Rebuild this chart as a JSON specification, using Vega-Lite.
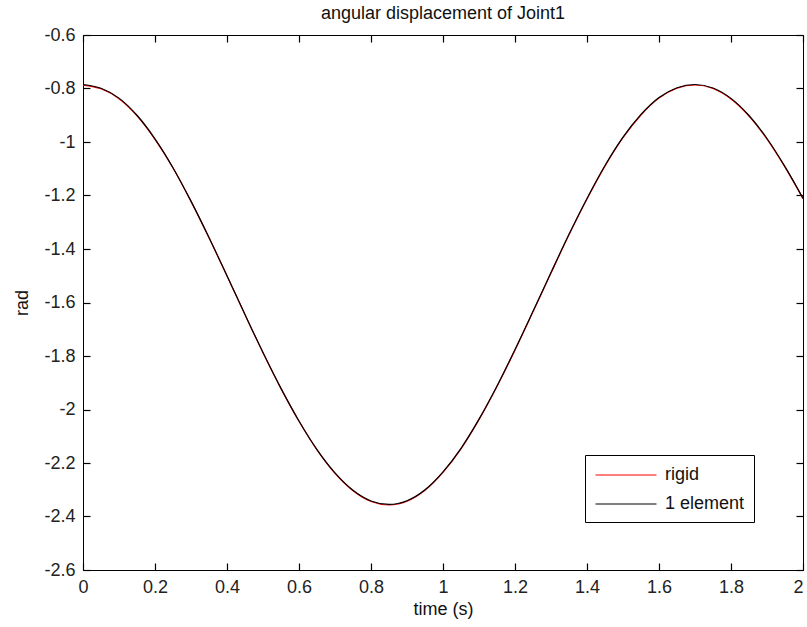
{
  "$schema": "https://vega.github.io/schema/vega-lite/v6.json",
  "autosize": {"type": "none"},
  "padding": {"left": 83, "top": 35, "right": 4, "bottom": 57},
  "width": 720,
  "height": 535,
  "background": "white",
  "title": {"text": "angular displacement of Joint1", "font": "Liberation Sans", "fontSize": 18, "fontWeight": "normal", "color": "#111", "offset": 3},
  "config": {
    "view": {"stroke": "#000", "strokeWidth": 1},
    "axis": {"grid": false, "zindex": 1, "domain": false, "labelFont": "Liberation Sans", "labelFontSize": 18, "labelColor": "#222", "titleFont": "Liberation Sans", "titleFontSize": 18, "titleFontWeight": "normal", "titleColor": "#111"}
  },
  "data": {"values": [
    {"t": 0, "v": -0.787, "series": "rigid"},
    {"t": 0.05, "v": -0.801, "series": "rigid"},
    {"t": 0.1, "v": -0.838, "series": "rigid"},
    {"t": 0.15, "v": -0.902, "series": "rigid"},
    {"t": 0.2, "v": -0.990, "series": "rigid"},
    {"t": 0.25, "v": -1.097, "series": "rigid"},
    {"t": 0.3, "v": -1.222, "series": "rigid"},
    {"t": 0.35, "v": -1.358, "series": "rigid"},
    {"t": 0.4, "v": -1.501, "series": "rigid"},
    {"t": 0.45, "v": -1.646, "series": "rigid"},
    {"t": 0.5, "v": -1.788, "series": "rigid"},
    {"t": 0.55, "v": -1.922, "series": "rigid"},
    {"t": 0.6, "v": -2.044, "series": "rigid"},
    {"t": 0.65, "v": -2.151, "series": "rigid"},
    {"t": 0.7, "v": -2.239, "series": "rigid"},
    {"t": 0.75, "v": -2.304, "series": "rigid"},
    {"t": 0.8, "v": -2.344, "series": "rigid"},
    {"t": 0.85, "v": -2.357, "series": "rigid"},
    {"t": 0.9, "v": -2.343, "series": "rigid"},
    {"t": 0.95, "v": -2.302, "series": "rigid"},
    {"t": 1.0, "v": -2.235, "series": "rigid"},
    {"t": 1.05, "v": -2.147, "series": "rigid"},
    {"t": 1.1, "v": -2.038, "series": "rigid"},
    {"t": 1.15, "v": -1.914, "series": "rigid"},
    {"t": 1.2, "v": -1.778, "series": "rigid"},
    {"t": 1.25, "v": -1.635, "series": "rigid"},
    {"t": 1.3, "v": -1.490, "series": "rigid"},
    {"t": 1.35, "v": -1.347, "series": "rigid"},
    {"t": 1.4, "v": -1.213, "series": "rigid"},
    {"t": 1.45, "v": -1.090, "series": "rigid"},
    {"t": 1.5, "v": -0.984, "series": "rigid"},
    {"t": 1.55, "v": -0.899, "series": "rigid"},
    {"t": 1.6, "v": -0.836, "series": "rigid"},
    {"t": 1.65, "v": -0.799, "series": "rigid"},
    {"t": 1.7, "v": -0.787, "series": "rigid"},
    {"t": 1.75, "v": -0.800, "series": "rigid"},
    {"t": 1.8, "v": -0.839, "series": "rigid"},
    {"t": 1.85, "v": -0.903, "series": "rigid"},
    {"t": 1.9, "v": -0.989, "series": "rigid"},
    {"t": 1.95, "v": -1.094, "series": "rigid"},
    {"t": 2.0, "v": -1.212, "series": "rigid"},
    {"t": 0, "v": -0.785, "series": "1 element"},
    {"t": 0.05, "v": -0.799, "series": "1 element"},
    {"t": 0.1, "v": -0.836, "series": "1 element"},
    {"t": 0.15, "v": -0.900, "series": "1 element"},
    {"t": 0.2, "v": -0.988, "series": "1 element"},
    {"t": 0.25, "v": -1.096, "series": "1 element"},
    {"t": 0.3, "v": -1.221, "series": "1 element"},
    {"t": 0.35, "v": -1.357, "series": "1 element"},
    {"t": 0.4, "v": -1.500, "series": "1 element"},
    {"t": 0.45, "v": -1.645, "series": "1 element"},
    {"t": 0.5, "v": -1.787, "series": "1 element"},
    {"t": 0.55, "v": -1.921, "series": "1 element"},
    {"t": 0.6, "v": -2.043, "series": "1 element"},
    {"t": 0.65, "v": -2.150, "series": "1 element"},
    {"t": 0.7, "v": -2.237, "series": "1 element"},
    {"t": 0.75, "v": -2.302, "series": "1 element"},
    {"t": 0.8, "v": -2.342, "series": "1 element"},
    {"t": 0.85, "v": -2.355, "series": "1 element"},
    {"t": 0.9, "v": -2.341, "series": "1 element"},
    {"t": 0.95, "v": -2.300, "series": "1 element"},
    {"t": 1.0, "v": -2.233, "series": "1 element"},
    {"t": 1.05, "v": -2.145, "series": "1 element"},
    {"t": 1.1, "v": -2.036, "series": "1 element"},
    {"t": 1.15, "v": -1.912, "series": "1 element"},
    {"t": 1.2, "v": -1.776, "series": "1 element"},
    {"t": 1.25, "v": -1.633, "series": "1 element"},
    {"t": 1.3, "v": -1.488, "series": "1 element"},
    {"t": 1.35, "v": -1.345, "series": "1 element"},
    {"t": 1.4, "v": -1.211, "series": "1 element"},
    {"t": 1.45, "v": -1.088, "series": "1 element"},
    {"t": 1.5, "v": -0.982, "series": "1 element"},
    {"t": 1.55, "v": -0.897, "series": "1 element"},
    {"t": 1.6, "v": -0.834, "series": "1 element"},
    {"t": 1.65, "v": -0.797, "series": "1 element"},
    {"t": 1.7, "v": -0.785, "series": "1 element"},
    {"t": 1.75, "v": -0.798, "series": "1 element"},
    {"t": 1.8, "v": -0.837, "series": "1 element"},
    {"t": 1.85, "v": -0.901, "series": "1 element"},
    {"t": 1.9, "v": -0.987, "series": "1 element"},
    {"t": 1.95, "v": -1.092, "series": "1 element"},
    {"t": 2.0, "v": -1.210, "series": "1 element"}
  ]},
  "layer": [
    {
      "transform": [{"filter": "datum.series === 'rigid'"}],
      "mark": {"type": "line", "strokeWidth": 1.2, "clip": true, "interpolate": "monotone"},
      "encoding": {
        "x": {"field": "t", "type": "quantitative", "scale": {"domain": [0, 2], "nice": false, "zero": false},
              "axis": {"orient": "bottom", "title": "time (s)", "titlePadding": 4, "offset": -7, "ticks": true, "tickSize": 7, "tickColor": "#000", "tickWidth": 1.2, "labelPadding": 8, "values": [0, 0.2, 0.4, 0.6, 0.8, 1, 1.2, 1.4, 1.6, 1.8, 2], "labelExpr": "'' + datum.value", "labelFlush": false,
                       "labelAlign": {"condition": {"test": "datum.value == 2", "value": "right"}, "value": "center"}}},
        "y": {"field": "v", "type": "quantitative", "scale": {"domain": [-2.6, -0.6], "nice": false, "zero": false},
              "axis": {"orient": "left", "title": "rad", "titlePadding": 12, "offset": -7, "ticks": true, "tickSize": 7, "tickColor": "#000", "tickWidth": 1.2, "labelPadding": 8, "values": [-2.6, -2.4, -2.2, -2, -1.8, -1.6, -1.4, -1.2, -1, -0.8, -0.6], "labelExpr": "'' + datum.value", "labelFlush": false}},
        "color": {"field": "series", "type": "nominal",
                  "scale": {"domain": ["rigid", "1 element"], "range": ["#ff0000", "#000000"]},
                  "legend": {"title": null, "orient": "none", "legendX": 502, "legendY": 420, "symbolType": "M-3,0H3", "symbolSize": 413, "symbolStrokeWidth": 1.2, "symbolOffset": 21, "labelFont": "Liberation Sans", "labelFontSize": 18, "labelColor": "#111", "strokeColor": "#000", "fillColor": "#fff", "padding": 9, "rowPadding": 9, "labelOffset": 28, "labelLimit": 200}}
      }
    },
    {
      "transform": [{"filter": "datum.series === '1 element'"}],
      "mark": {"type": "line", "strokeWidth": 1.2, "clip": true, "interpolate": "monotone"},
      "encoding": {
        "x": {"field": "t", "type": "quantitative", "axis": {"orient": "top", "title": null, "labels": false, "offset": -7, "ticks": true, "tickSize": 7, "tickColor": "#000", "tickWidth": 1.2, "values": [0, 0.2, 0.4, 0.6, 0.8, 1, 1.2, 1.4, 1.6, 1.8, 2]}},
        "y": {"field": "v", "type": "quantitative", "axis": {"orient": "right", "title": null, "labels": false, "offset": -7, "ticks": true, "tickSize": 7, "tickColor": "#000", "tickWidth": 1.2, "values": [-2.6, -2.4, -2.2, -2, -1.8, -1.6, -1.4, -1.2, -1, -0.8, -0.6]}},
        "color": {"field": "series", "type": "nominal"}
      }
    }
  ],
  "resolve": {"axis": {"x": "independent", "y": "independent"}}
}
